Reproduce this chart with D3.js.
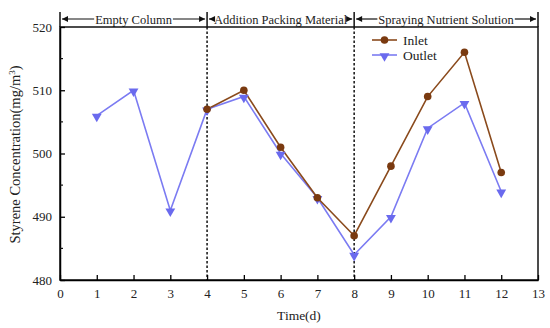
<!DOCTYPE html>
<html>
<head>
<meta charset="utf-8">
<script src="https://cdn.jsdelivr.net/npm/d3@7"></script>
<style>
  body { margin: 0; background: #fff; }
  text { font-family: "Liberation Serif", "Times New Roman", serif; fill: #222; }
</style>
</head>
<body>
<svg id="chart" width="550" height="328"></svg>
<script>
// data
const inletDays = [4, 5, 6, 7, 8, 9, 10, 11, 12];
const inletValues = [507, 510, 501, 493, 487, 498, 509, 516, 497];
const outletDays = [1, 2, 3, 4, 5, 6, 7, 8, 9, 10, 11, 12];
const outletValues = [506, 510, 491, 507, 509, 500, 493, 484, 490, 504, 508, 494];
const xTicks = [0, 1, 2, 3, 4, 5, 6, 7, 8, 9, 10, 11, 12, 13];
const yTicks = [480, 490, 500, 510, 520];
const yMinor = [485, 495, 505, 515];
const stages = [
  { from: 0, to: 4, label: "Empty Column" },
  { from: 4, to: 8, label: "Addition Packing Material" },
  { from: 8, to: 13, label: "Spraying Nutrient Solution" }
];
const dividers = [4, 8];

const svg = d3.select("#chart");
const mLeft = 60, mRight = 538, mTop = 27, mBottom = 280, headTop = 12;

const x = d3.scaleLinear().domain([0, 13]).range([mLeft, mRight]);
const y = d3.scaleLinear().domain([480, 520]).range([mBottom, mTop]);

const brown = "#8a4a1c", brownDot = "#7a3a10";
const blue = "#7b7bf2", blueDot = "#6a6aee";

// dotted dividers
svg.selectAll(".div")
  .data(dividers)
  .enter()
  .append("line")
  .attr("x1", d => x(d)).attr("x2", d => x(d))
  .attr("y1", mTop).attr("y2", mBottom)
  .attr("stroke", "#111").attr("stroke-width", 1.5)
  .attr("stroke-dasharray", "2.5,2");

// header band vertical bars
svg.selectAll(".hbar")
  .data([0, 4, 8, 13])
  .enter()
  .append("line")
  .attr("x1", d => x(d)).attr("x2", d => x(d))
  .attr("y1", headTop).attr("y2", mTop)
  .attr("stroke", "#111").attr("stroke-width", 1.5);

// arrow heads
const defs = svg.append("defs");
defs.append("marker")
  .attr("id", "arr")
  .attr("viewBox", "0 0 10 10")
  .attr("refX", 10).attr("refY", 5)
  .attr("markerWidth", 7).attr("markerHeight", 5)
  .attr("orient", "auto-start-reverse")
  .append("path")
  .attr("d", "M0,0 L10,5 L0,10 Z")
  .attr("fill", "#111");

const headY = 19;
stages.forEach(s => {
  const x0 = x(s.from) + 1, x1 = x(s.to) - 1;
  const cx = (x(s.from) + x(s.to)) / 2;
  const t = svg.append("text")
    .attr("x", cx).attr("y", headY + 4.5)
    .attr("text-anchor", "middle")
    .attr("font-size", 12.5)
    .text(s.label);
  const w = t.node().getComputedTextLength();
  svg.append("line")
    .attr("x1", cx - w / 2 - 1).attr("x2", x0 + 1)
    .attr("y1", headY).attr("y2", headY)
    .attr("stroke", "#111").attr("stroke-width", 1.2)
    .attr("marker-end", "url(#arr)");
  svg.append("line")
    .attr("x1", cx + w / 2 + 1).attr("x2", x1 - 1)
    .attr("y1", headY).attr("y2", headY)
    .attr("stroke", "#111").attr("stroke-width", 1.2)
    .attr("marker-end", "url(#arr)");
});

// frame
svg.append("rect")
  .attr("x", mLeft).attr("y", mTop)
  .attr("width", mRight - mLeft).attr("height", mBottom - mTop)
  .attr("fill", "none").attr("stroke", "#111").attr("stroke-width", 1.5);

// axes
const xAxis = svg.append("g")
  .attr("transform", `translate(0,${mBottom})`)
  .call(d3.axisBottom(x).tickValues(xTicks).tickSizeInner(-5).tickSizeOuter(0).tickPadding(9));
xAxis.select(".domain").attr("stroke-width", 1.5);
xAxis.selectAll(".tick line").attr("stroke-width", 1.3);
xAxis.selectAll("text").attr("font-size", 13);

const yAxis = svg.append("g")
  .attr("transform", `translate(${mLeft},0)`)
  .call(d3.axisLeft(y).tickValues(yTicks).tickSizeInner(-5).tickSizeOuter(0).tickPadding(8));
yAxis.select(".domain").attr("stroke-width", 1.5);
yAxis.selectAll(".tick line").attr("stroke-width", 1.3);
yAxis.selectAll("text").attr("font-size", 13);

svg.selectAll(".ymin")
  .data(yMinor)
  .enter()
  .append("line")
  .attr("x1", mLeft).attr("x2", mLeft + 3)
  .attr("y1", d => y(d)).attr("y2", d => y(d))
  .attr("stroke", "#111").attr("stroke-width", 1.2);

// axis titles
svg.append("text")
  .attr("x", x(6.5)).attr("y", 320)
  .attr("text-anchor", "middle")
  .attr("font-size", 13.5)
  .text("Time(d)");

const yl = svg.append("text")
  .attr("transform", `translate(20,${(mTop + mBottom) / 2 + 1}) rotate(-90)`)
  .attr("text-anchor", "middle")
  .attr("font-size", 14.5);
yl.append("tspan").text("Styrene Concentration(mg/m");
yl.append("tspan").attr("font-size", 9).attr("dy", -5).text("3");
yl.append("tspan").attr("dy", 5).text(")");

// series
const inlet = inletDays.map((d, i) => ({ x: d, y: inletValues[i] }));
const outlet = outletDays.map((d, i) => ({ x: d, y: outletValues[i] }));
const line = d3.line().x(d => x(d.x)).y(d => y(d.y));

svg.append("path")
  .datum(outlet)
  .attr("d", line)
  .attr("fill", "none").attr("stroke", blue).attr("stroke-width", 1.6);

svg.append("path")
  .datum(inlet)
  .attr("d", line)
  .attr("fill", "none").attr("stroke", brown).attr("stroke-width", 1.6);

const tri = d3.symbol().type(d3.symbolTriangle).size(42);
svg.selectAll(".out")
  .data(outlet)
  .enter()
  .append("path")
  .attr("d", tri)
  .attr("transform", d => `translate(${x(d.x)},${y(d.y) + 1}) rotate(180)`)
  .attr("fill", blueDot);

svg.selectAll(".in")
  .data(inlet)
  .enter()
  .append("circle")
  .attr("cx", d => x(d.x)).attr("cy", d => y(d.y))
  .attr("r", 3.8)
  .attr("fill", brownDot);

// legend
const lg = svg.append("g").attr("transform", "translate(372,40)");
lg.append("line").attr("x1", 0).attr("x2", 25).attr("y1", 0).attr("y2", 0)
  .attr("stroke", brown).attr("stroke-width", 1.6);
lg.append("circle").attr("cx", 12.5).attr("cy", 0).attr("r", 3.8).attr("fill", brownDot);
lg.append("text").attr("x", 31).attr("y", 4.5).attr("font-size", 13.5).text("Inlet");
lg.append("line").attr("x1", 0).attr("x2", 25).attr("y1", 15).attr("y2", 15)
  .attr("stroke", blue).attr("stroke-width", 1.6);
lg.append("path").attr("d", tri)
  .attr("transform", "translate(12.5,16) rotate(180)").attr("fill", blueDot);
lg.append("text").attr("x", 31).attr("y", 19.5).attr("font-size", 13.5).text("Outlet");
</script>
</body>
</html>
